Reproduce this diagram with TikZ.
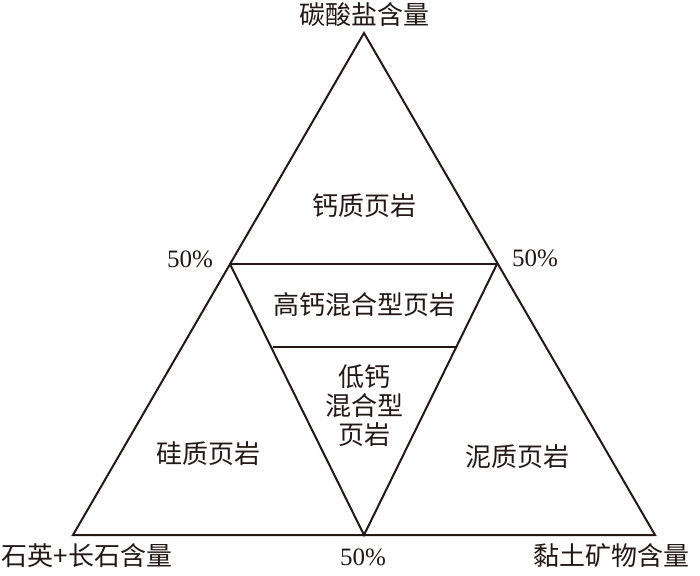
\documentclass[tikz,border=0pt]{standalone}
\usepackage{fontspec}
\setmainfont{Liberation Serif}
\newfontfamily\cjk{Noto Sans CJK SC}
\usepackage{tikz}
\usetikzlibrary{positioning}

\definecolor{ink}{HTML}{231815}

\begin{document}
\begin{tikzpicture}[
    x=1pt,y=-1pt,
    edge/.style={draw=ink,line width=2pt,line join=miter},
    lab/.style={inner sep=0pt,text=ink,font=\fontsize{26}{30}\selectfont\cjk,align=center},
    pct/.style={inner sep=0pt,text=ink,font=\fontsize{25}{30}\selectfont}
]
\useasboundingbox (0,0) rectangle (700,575);

% corners and midpoints
\coordinate (top) at (364,33);
\coordinate (bl) at (73,535);
\coordinate (br) at (655,535);
\coordinate (ml) at (230,264);
\coordinate (mr) at (497,264);
\coordinate (mb) at (364,535);
\coordinate (il) at (273,347);
\coordinate (ir) at (456,347);

\draw[edge] (top) -- (br) -- (bl) -- cycle;
\draw[edge] (ml) -- (mr);
\draw[edge] (ml) -- (mb) -- (mr);
\draw[edge] (il) -- (ir);

% end members
\node[lab] (carb) at (364,15) {碳酸盐含量};
\node[lab] (qtz) at (87,556) {石英+长石含量};
\node[lab] (clay) at (611,556) {黏土矿物含量};

% percentages
\node[pct] (pl) at (190,259) {50\%};
\node[pct] (pr) at (535,258) {50\%};
\node[pct] (pb) at (363,557) {50\%};

% fields
\node[lab] (calc) at (364,206) {钙质页岩};
\node[lab] (hmix) at (364,305) {高钙混合型页岩};
\node[lab,font=\fontsize{26}{29}\selectfont\cjk] (lmix) at (364,406) {低钙\\混合型\\页岩};
\node[lab] (sil) at (208,454) {硅质页岩};
\node[lab] (arg) at (517,457) {泥质页岩};
\end{tikzpicture}
\end{document}
